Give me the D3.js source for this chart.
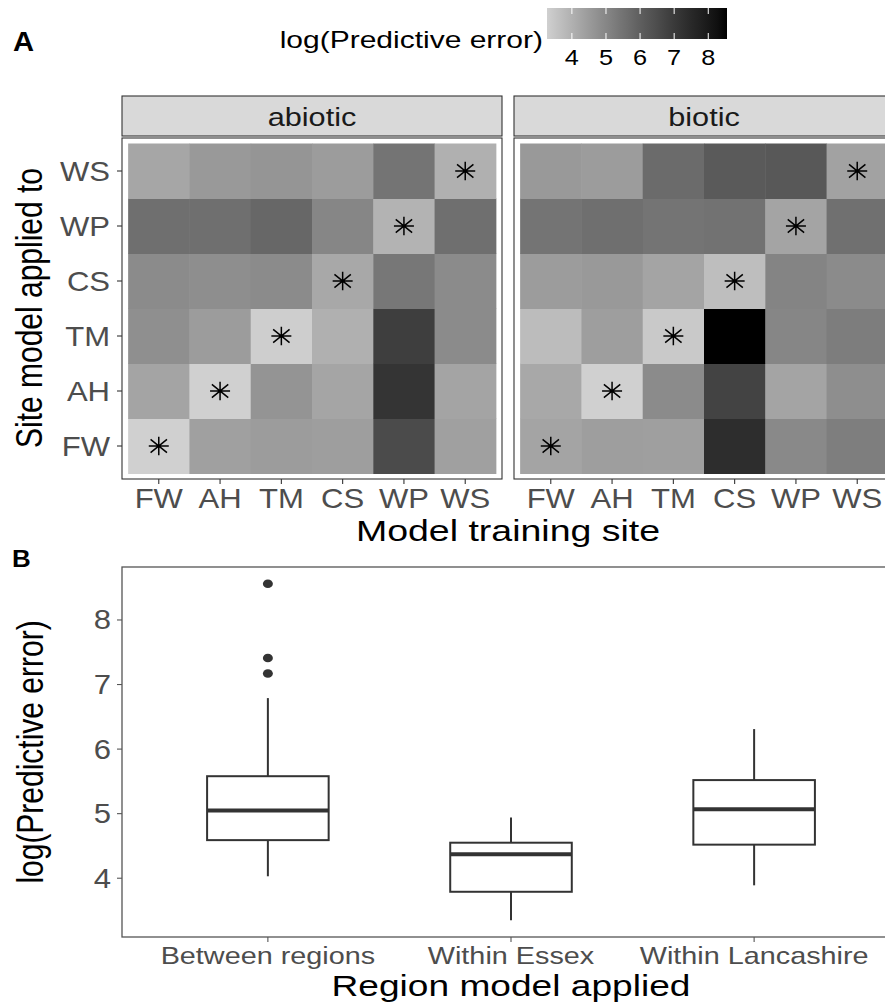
<!DOCTYPE html>
<html><head><meta charset="utf-8">
<script src="https://cdn.jsdelivr.net/npm/d3@7"></script>
<style>
html,body{margin:0;padding:0;background:#fff;}
svg{display:block;font-family:"Liberation Sans",Arial,Helvetica,sans-serif;}
</style></head>
<body><div id="chart"></div>
<script>
// ---------------- data ----------------
const sites = ["FW","AH","TM","CS","WP","WS"];           // training (x) and applied (y) sites
const facets = ["abiotic","biotic"];
// rows = site model applied to (FW..WS), columns = model training site (FW..WS)
const abiotic = [
  [3.28, 4.38, 4.47, 4.42, 6.54, 4.38],
  [4.30, 3.27, 4.67, 4.26, 7.19, 4.30],
  [4.79, 4.47, 3.31, 4.01, 6.90, 4.90],
  [4.90, 4.81, 4.90, 4.19, 5.38, 4.90],
  [5.60, 5.60, 5.78, 5.02, 3.94, 5.60],
  [4.24, 4.54, 4.64, 4.47, 5.47, 4.01]
];
const biotic = [
  [4.30, 4.42, 4.40, 7.39, 4.95, 5.20],
  [4.19, 3.28, 4.90, 6.74, 4.30, 4.81],
  [3.72, 4.42, 3.43, 8.55, 5.02, 5.23],
  [4.47, 4.56, 4.30, 3.68, 5.07, 4.88],
  [5.47, 5.60, 5.45, 5.50, 4.30, 5.55],
  [4.54, 4.47, 5.68, 6.12, 6.19, 4.33]
];
const legendTicks = [4,5,6,7,8];

const regions = ["Between regions","Within Essex","Within Lancashire"];
const boxLow  = [4.03, 3.35, 3.89];
const boxQ1   = [4.59, 3.79, 4.52];
const boxMed  = [5.05, 4.37, 5.07];
const boxQ3   = [5.58, 4.55, 5.52];
const boxHigh = [6.79, 4.94, 6.31];
const boxOutliers = [[8.56, 7.41, 7.17], [], []];
const yTicksB = [4,5,6,7,8];

// ---------------- setup ----------------
const W = 885, H = 1005, SX = 1.25;
const svg = d3.select("#chart").append("svg").attr("width", W).attr("height", H);
svg.append("rect").attr("width", W).attr("height", H).attr("fill", "#fff");

function txt(g, x, y, s, o) {
  o = o || {};
  const t = g.append("text")
    .attr("transform", `translate(${x},${y}) scale(${o.sx || SX},1)` + (o.rot ? ` rotate(${o.rot})` : ""))
    .attr("text-anchor", o.anchor || "middle")
    .attr("font-size", o.size || 25)
    .attr("fill", o.fill || "#000")
    .attr("font-weight", o.weight || "normal")
    .text(s);
  return t;
}

const allVals = abiotic.flat().concat(biotic.flat());
const ext = d3.extent(allVals);
const color = d3.scaleLinear().domain(ext).range(["#d0d0d0", "#000000"]).interpolate(d3.interpolateLab);

// ---------------- panel A labels / legend ----------------
txt(svg, 13, 51, "A", {size: 27, weight: "bold", anchor: "start", sx: 1.08});

const legX = d3.scaleLinear().domain(ext).range([547, 727]);
const defs = svg.append("defs");
const grad = defs.append("linearGradient").attr("id", "cbar").attr("x1", "0%").attr("x2", "100%");
d3.range(0, 1.0001, 0.05).forEach(t => {
  grad.append("stop").attr("offset", (t * 100) + "%").attr("stop-color", color(ext[0] + t * (ext[1] - ext[0])));
});
svg.append("rect").attr("x", legX(ext[0])).attr("y", 8).attr("width", legX(ext[1]) - legX(ext[0])).attr("height", 31).attr("fill", "url(#cbar)");
legendTicks.forEach(v => {
  svg.append("line").attr("x1", legX(v)).attr("x2", legX(v)).attr("y1", 8).attr("y2", 14).attr("stroke", "#fff").attr("stroke-width", 1);
  svg.append("line").attr("x1", legX(v)).attr("x2", legX(v)).attr("y1", 33).attr("y2", 39).attr("stroke", "#fff").attr("stroke-width", 1);
  txt(svg, legX(v), 65, String(v), {size: 22, sx: 1.15});
});
txt(svg, 543, 48, "log(Predictive error)", {size: 24, anchor: "end"});

// ---------------- heatmaps ----------------
const panelX0 = [122, 514], panelW = 380, pTop = 138, pBot = 479;
[abiotic, biotic].forEach((mat, fi) => {
  const g = svg.append("g");
  const x0 = panelX0[fi];
  const x = d3.scaleBand().domain(sites).range([x0, x0 + panelW]).paddingInner(0).paddingOuter(0.1);
  const y = d3.scaleBand().domain(sites).range([pBot, pTop]).paddingInner(0).paddingOuter(0.1);
  // strip
  g.append("rect").attr("x", x0).attr("y", 96).attr("width", panelW).attr("height", 40)
    .attr("fill", "#d9d9d9").attr("stroke", "#333").attr("stroke-width", 1.1);
  txt(g, x0 + panelW / 2, 126, facets[fi], {size: 26, fill: "#1a1a1a", sx: 1.18});
  // tiles
  const cells = [];
  mat.forEach((row, ri) => row.forEach((v, ci) => cells.push({a: sites[ri], t: sites[ci], v})));
  g.selectAll("rect.tile").data(cells).join("rect").attr("class", "tile")
    .attr("x", d => x(d.t)).attr("y", d => y(d.a))
    .attr("width", x.bandwidth() + 0.5).attr("height", y.bandwidth() + 0.5)
    .attr("fill", d => color(d.v));
  // asterisks on the diagonal
  const rv = 9.3, rh = 10, dxd = 8.2, dyd = 6.6;
  cells.filter(d => d.a === d.t).forEach(d => {
    const cx = x(d.t) + x.bandwidth() / 2, cy = y(d.a) + y.bandwidth() / 2;
    g.append("path")
      .attr("d", `M${cx - rh},${cy}L${cx + rh},${cy}M${cx},${cy - rv}L${cx},${cy + rv}` +
                 `M${cx - dxd},${cy - dyd}L${cx + dxd},${cy + dyd}M${cx - dxd},${cy + dyd}L${cx + dxd},${cy - dyd}`)
      .attr("stroke", "#000").attr("stroke-width", 1.5).attr("fill", "none");
  });
  // border
  g.append("rect").attr("x", x0).attr("y", pTop).attr("width", panelW).attr("height", pBot - pTop)
    .attr("fill", "none").attr("stroke", "#333").attr("stroke-width", 1.1);
  // x axis
  sites.forEach(s => {
    const cx = x(s) + x.bandwidth() / 2;
    g.append("line").attr("x1", cx).attr("x2", cx).attr("y1", pBot).attr("y2", pBot + 5).attr("stroke", "#333").attr("stroke-width", 1.1);
    txt(g, cx, 508, s, {size: 27, fill: "#4d4d4d", sx: 1.15});
  });
  if (fi === 0) {
    sites.forEach(s => {
      const cy = y(s) + y.bandwidth() / 2;
      g.append("line").attr("x1", x0 - 5).attr("x2", x0).attr("y1", cy).attr("y2", cy).attr("stroke", "#333").attr("stroke-width", 1.1);
      txt(g, 110, cy + 9.5, s, {size: 27, fill: "#4d4d4d", anchor: "end", sx: 1.15});
    });
  }
});
txt(svg, 508, 541, "Model training site", {size: 30});
txt(svg, 42, 308, "Site model applied to", {size: 30, rot: -90});

// ---------------- panel B boxplot ----------------
txt(svg, 12, 567, "B", {size: 24, weight: "bold", anchor: "start", sx: 1.08});
const bx0 = 122, bx1 = 900, bTop = 567, bBot = 937;
const allB = boxLow.concat(boxHigh, boxOutliers.flat());
const bExt = d3.extent(allB), pad = (bExt[1] - bExt[0]) * 0.05;
const yB = d3.scaleLinear().domain([bExt[0] - pad, bExt[1] + pad]).range([bBot, bTop]);
const xB = d3.scalePoint().domain(regions).range([bx0, bx1]).padding(0.6);
const boxW = xB.step() * 0.5;
const gB = svg.append("g");
gB.append("rect").attr("x", bx0).attr("y", bTop).attr("width", bx1 - bx0).attr("height", bBot - bTop)
  .attr("fill", "none").attr("stroke", "#555").attr("stroke-width", 1.3);
regions.forEach((r, i) => {
  const cx = xB(r);
  gB.append("line").attr("x1", cx).attr("x2", cx).attr("y1", yB(boxHigh[i])).attr("y2", yB(boxQ3[i])).attr("stroke", "#333").attr("stroke-width", 2);
  gB.append("line").attr("x1", cx).attr("x2", cx).attr("y1", yB(boxQ1[i])).attr("y2", yB(boxLow[i])).attr("stroke", "#333").attr("stroke-width", 2);
  gB.append("rect").attr("x", cx - boxW / 2).attr("y", yB(boxQ3[i])).attr("width", boxW).attr("height", yB(boxQ1[i]) - yB(boxQ3[i]))
    .attr("fill", "#fff").attr("stroke", "#333").attr("stroke-width", 2);
  gB.append("line").attr("x1", cx - boxW / 2).attr("x2", cx + boxW / 2).attr("y1", yB(boxMed[i])).attr("y2", yB(boxMed[i])).attr("stroke", "#333").attr("stroke-width", 4);
  boxOutliers[i].forEach(v => {
    gB.append("ellipse").attr("cx", cx).attr("cy", yB(v)).attr("rx", 5).attr("ry", 4.3).attr("fill", "#333");
  });
  gB.append("line").attr("x1", cx).attr("x2", cx).attr("y1", bBot).attr("y2", bBot + 5).attr("stroke", "#555").attr("stroke-width", 1.1);
  txt(gB, cx, 964, r, {size: 24, fill: "#4d4d4d", sx: 1.2});
});
yTicksB.forEach(v => {
  gB.append("line").attr("x1", bx0 - 5).attr("x2", bx0).attr("y1", yB(v)).attr("y2", yB(v)).attr("stroke", "#555").attr("stroke-width", 1.1);
  txt(gB, 111, yB(v) + 9.5, String(v), {size: 27, fill: "#4d4d4d", anchor: "end", sx: 1.15});
});
txt(svg, 511, 996, "Region model applied", {size: 29, sx: 1.28});
txt(svg, 43, 752, "log(Predictive error)", {size: 30, rot: -90});
</script>
</body></html>
